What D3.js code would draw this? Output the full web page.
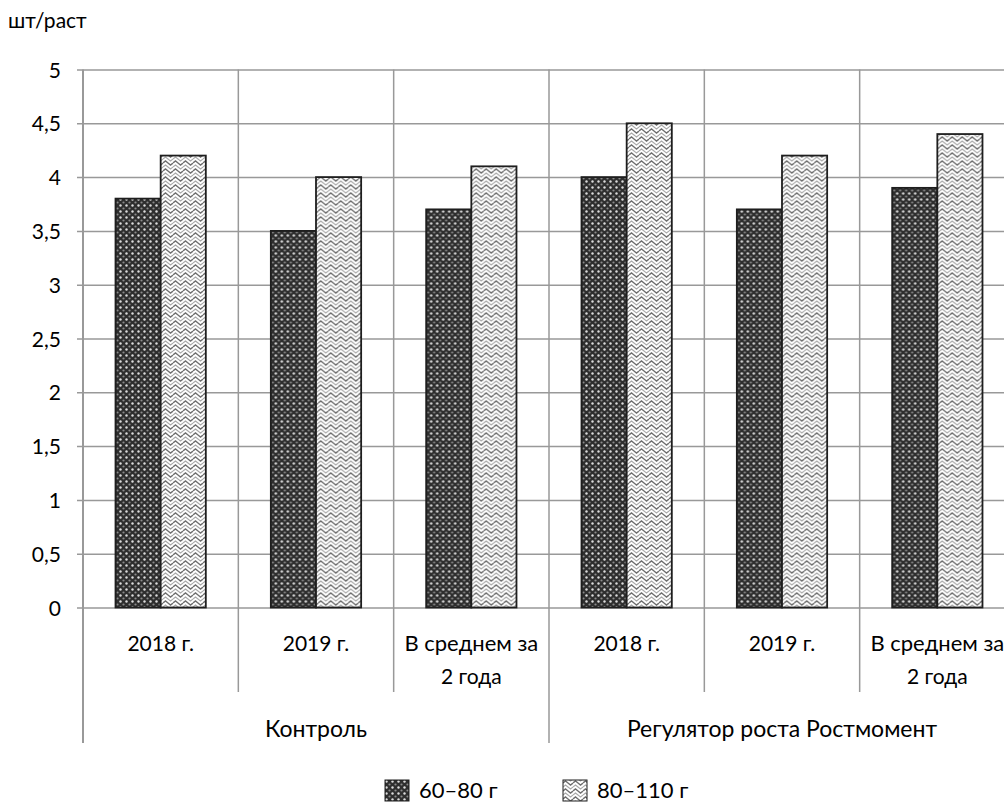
<!DOCTYPE html>
<html>
<head>
<meta charset="utf-8">
<script src="https://cdn.jsdelivr.net/npm/d3@7"></script>
<style>
  body { margin: 0; background: #fff; }
  svg { display: block; font-family: Lato, "Open Sans", sans-serif; }
</style>
</head>
<body>
<div id="chart"></div>
<script>
const WIDTH = 1004;
const HEIGHT = 805;

// данные
const groups = ["Контроль", "Регулятор роста Ростмомент"];
const periods = [["2018 г."], ["2019 г."], ["В среднем за", "2 года"]];
const series = ["60–80 г", "80–110 г"];
const small = [3.8, 3.5, 3.7, 4.0, 3.7, 3.9];
const large = [4.2, 4.0, 4.1, 4.5, 4.2, 4.4];
const yTicks = [0, 0.5, 1, 1.5, 2, 2.5, 3, 3.5, 4, 4.5, 5];

const cats = d3.range(groups.length * periods.length);
const values = cats.map(i => [small[i], large[i]]);

const LEFT = 83, RIGHT = 1015, TOP = 69.5, BOTTOM = 607.5;
const GRID = "#999";

const svg = d3.select("#chart")
    .append("svg")
    .attr("width", WIDTH)
    .attr("height", HEIGHT);

// узоры заливки
const defs = svg.append("defs");

const dots = defs.append("pattern")
    .attr("id", "dots")
    .attr("patternUnits", "userSpaceOnUse")
    .attr("width", 6)
    .attr("height", 6);
dots.append("rect").attr("width", 6).attr("height", 6).attr("fill", "#2e2e2e");
dots.append("circle").attr("cx", 1.5).attr("cy", 1.5).attr("r", 1.2).attr("fill", "#dcdcdc");
dots.append("circle").attr("cx", 4.5).attr("cy", 4.5).attr("r", 1.1).attr("fill", "#8a8a8a");

const waves = defs.append("pattern")
    .attr("id", "waves")
    .attr("patternUnits", "userSpaceOnUse")
    .attr("width", 10)
    .attr("height", 8);
waves.append("rect").attr("width", 10).attr("height", 8).attr("fill", "#fff");
waves.append("path")
    .attr("d", "M0,3 L2.5,1 L5,3 L7.5,5 L10,3")
    .attr("fill", "none")
    .attr("stroke", "#6e6e6e")
    .attr("stroke-width", 1.4);
waves.append("path")
    .attr("d", "M0,7 L2.5,5 L5,7 L7.5,9 L10,7 M0,-1 L2.5,-3 L5,-1 L7.5,1 L10,-1")
    .attr("fill", "none")
    .attr("stroke", "#aaa")
    .attr("stroke-width", 1.1);

const fills = ["url(#dots)", "url(#waves)"];

// шкалы
const x0 = d3.scaleBand()
    .domain(cats)
    .range([LEFT, RIGHT])
    .padding(0);

const x1 = d3.scaleBand()
    .domain(d3.range(series.length))
    .range([0, x0.bandwidth()])
    .paddingInner(0)
    .paddingOuter(0.72);

const y = d3.scaleLinear()
    .domain([0, 5])
    .range([BOTTOM, TOP]);

// сетка и ось Y
const yAxis = svg.append("g")
    .attr("transform", `translate(${LEFT},0)`)
    .call(d3.axisLeft(y)
        .tickValues(yTicks)
        .tickSize(-(RIGHT - LEFT))
        .tickSizeOuter(0)
        .tickFormat(d => String(d).replace(".", ",")));

yAxis.select(".domain").remove();
yAxis.selectAll(".tick line")
    .attr("x1", -6)
    .attr("stroke", GRID)
    .attr("stroke-width", 1.5);
yAxis.selectAll(".tick text")
    .attr("x", -22)
    .attr("dy", "0.36em")
    .attr("fill", "#000")
    .style("font-size", "21px")
    .style("font-family", "Lato, sans-serif");

// вертикальные разделители
const seps = d3.range(cats.length + 1);
svg.append("g")
    .selectAll("line")
    .data(seps)
    .enter()
    .append("line")
    .attr("x1", i => LEFT + i * x0.step())
    .attr("x2", i => LEFT + i * x0.step())
    .attr("y1", TOP)
    .attr("y2", i => i % periods.length === 0 ? 743 : 692)
    .attr("stroke", GRID)
    .attr("stroke-width", i => i === 0 ? 2 : 1.5);

// столбцы
const bars = svg.append("g")
    .selectAll("g")
    .data(values)
    .enter()
    .append("g")
    .attr("transform", (d, i) => `translate(${x0(i)},0)`);

bars.selectAll("rect")
    .data(d => d)
    .enter()
    .append("rect")
    .attr("x", (d, j) => x1(j))
    .attr("width", x1.bandwidth())
    .attr("y", d => y(d))
    .attr("height", d => y(0) - y(d))
    .attr("fill", (d, j) => fills[j])
    .attr("stroke", "#1e1e1e")
    .attr("stroke-width", 1.8);

// подписи категорий
const catLabels = svg.append("g")
    .selectAll("text")
    .data(cats)
    .enter()
    .append("text")
    .attr("text-anchor", "middle")
    .attr("font-size", 21)
    .attr("x", i => x0(i) + x0.bandwidth() / 2)
    .attr("y", 651);

catLabels.selectAll("tspan")
    .data(i => periods[i % periods.length])
    .enter()
    .append("tspan")
    .attr("x", function () { return d3.select(this.parentNode).attr("x"); })
    .attr("dy", (d, k) => k === 0 ? 0 : 33)
    .style("font-size", (d, k) => d.length > 8 ? "22px" : null)
    .text(d => d);

svg.append("g")
    .selectAll("text")
    .data(groups)
    .enter()
    .append("text")
    .attr("text-anchor", "middle")
    .attr("font-size", 23)
    .attr("x", (d, g) => LEFT + (g + 0.5) * periods.length * x0.step())
    .attr("y", 737)
    .text(d => d);

// подпись оси
svg.append("text")
    .attr("x", 8)
    .attr("y", 28)
    .attr("font-size", 21)
    .text("шт/раст");

// легенда
const legendX = [385, 563];
const legend = svg.append("g")
    .selectAll("g")
    .data(series)
    .enter()
    .append("g")
    .attr("transform", (d, j) => `translate(${legendX[j]},780)`);

legend.append("rect")
    .attr("width", 24)
    .attr("height", 21)
    .attr("fill", (d, j) => fills[j])
    .attr("stroke", "#1e1e1e")
    .attr("stroke-width", 1);

legend.append("text")
    .attr("x", 34)
    .attr("y", 18)
    .attr("font-size", 22)
    .text(d => d);
</script>
</body>
</html>
